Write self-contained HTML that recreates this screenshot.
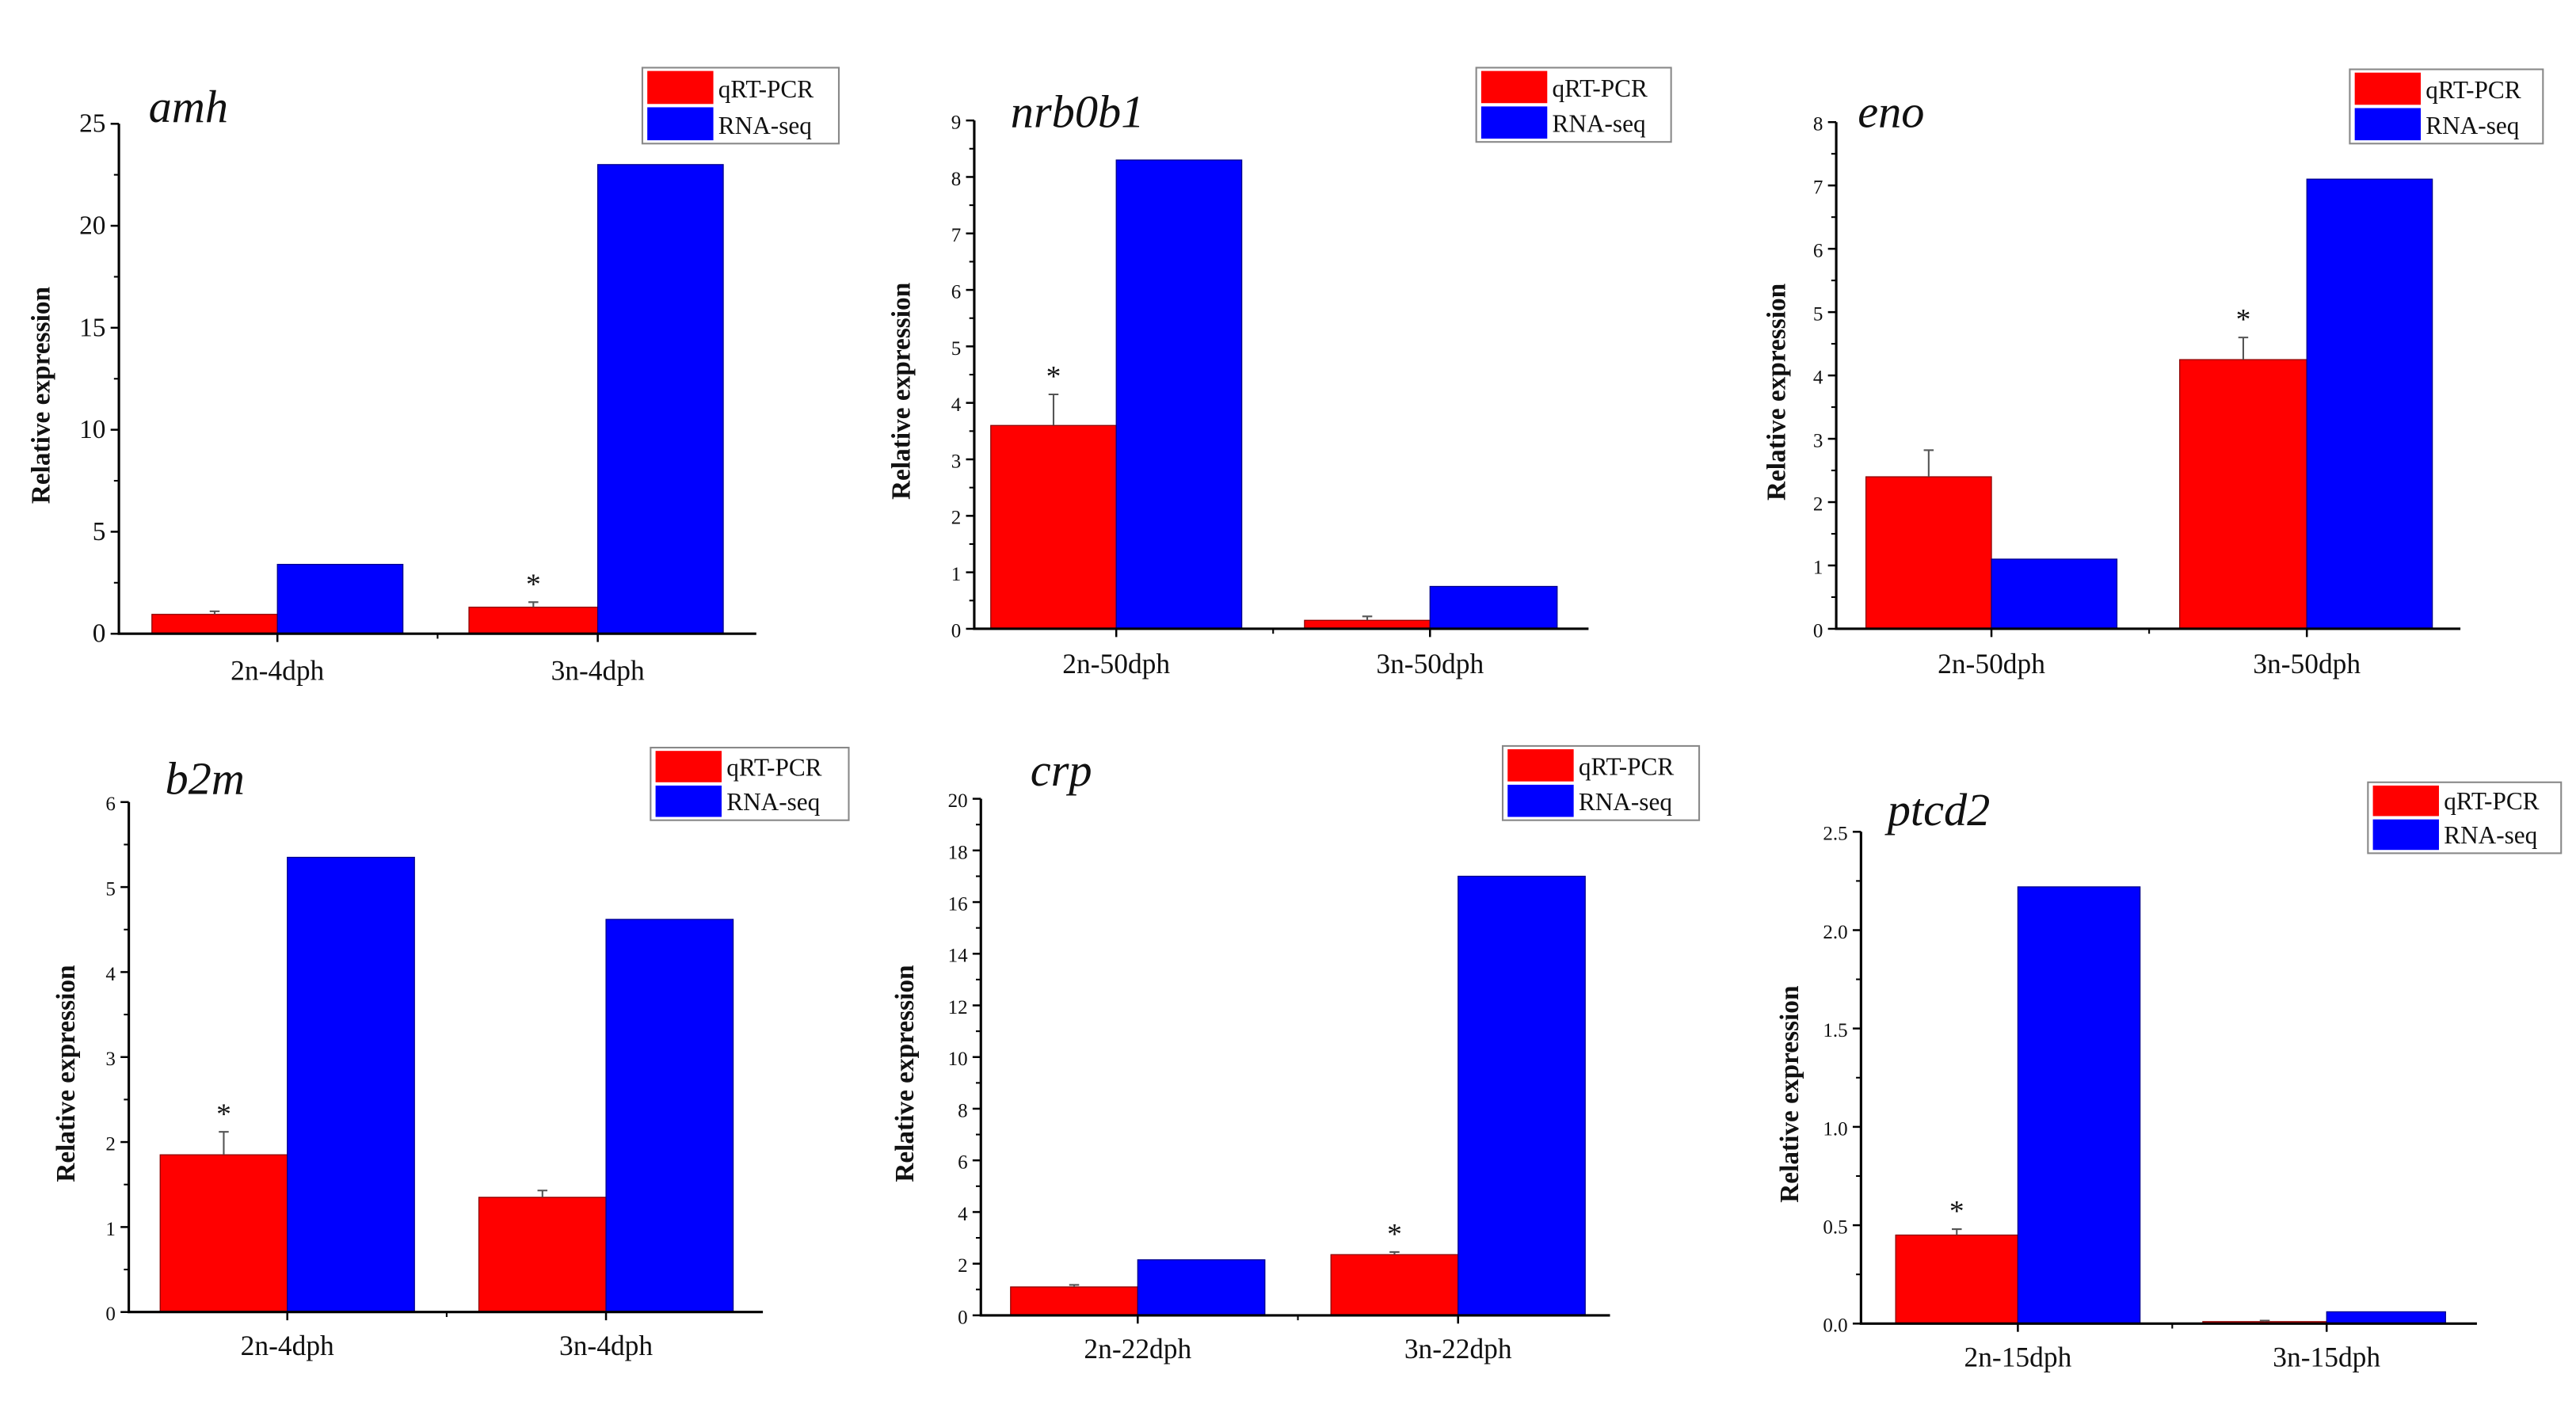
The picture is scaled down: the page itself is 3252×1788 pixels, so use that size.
<!DOCTYPE html>
<html><head><meta charset="utf-8"><style>
html,body{margin:0;padding:0;background:#fff;}
svg{display:block;}
text{font-family:"Liberation Serif",serif;fill:#111;}
</style></head><body>
<svg id="fig" width="3252" height="1788" viewBox="0 0 1560 858" preserveAspectRatio="none" xmlns="http://www.w3.org/2000/svg"></svg>
<script>
// ---- data ----
const genes = ["amh","nrb0b1","eno","b2m","crp","ptcd2"];
const categories = [["2n-4dph","3n-4dph"],["2n-50dph","3n-50dph"],["2n-50dph","3n-50dph"],["2n-4dph","3n-4dph"],["2n-22dph","3n-22dph"],["2n-15dph","3n-15dph"]];
const qpcrValues = [[0.95,1.3],[3.6,0.15],[2.4,4.25],[1.85,1.35],[1.1,2.35],[0.45,0.01]];
const qpcrErrors = [[0.15,0.25],[0.55,0.07],[0.42,0.35],[0.27,0.08],[0.08,0.1],[0.03,0.005]];
const rnaseqValues = [[3.4,23],[8.3,0.75],[1.1,7.1],[5.35,4.62],[2.15,17],[2.22,0.06]];
const significant = [[false,true],[true,false],[false,true],[true,false],[false,true],[true,false]];
const yMax = [25,9,8,6,20,2.5];
const yStep = [5,1,1,1,2,0.5];
const tickDecimals = [0,0,0,0,0,1];
// ---- layout (overview frame) ----
const layout = [
 {ax:72,y0:384,yt:75,xe:458,b:[92,168,284,362,438],title:[90,74],leg:[389,41,119,46],lab:412,yl:30},
 {ax:590,y0:381,yt:73,xe:962,b:[600,676,790,866,943],title:[612,77],leg:[894,41,118,45],lab:408,yl:551},
 {ax:1112,y0:381,yt:74,xe:1490,b:[1130,1206,1320,1397,1473],title:[1125,77],leg:[1423,42,117,45],lab:408,yl:1081},
 {ax:78,y0:795,yt:486,xe:462,b:[97,174,290,367,444],title:[100,481],leg:[394,453,120,44],lab:821,yl:45},
 {ax:594,y0:797,yt:484,xe:975,b:[612,689,806,883,960],title:[624,476],leg:[910,452,119,45],lab:823,yl:553},
 {ax:1127,y0:802,yt:504,xe:1500,b:[1148,1222,1334,1409,1481],title:[1143,500],leg:[1434,474,117,43],lab:828,yl:1089}
];
const NS="http://www.w3.org/2000/svg";
const svg=document.getElementById('fig');
function mk(tag,attrs,parent){const e=document.createElementNS(NS,tag);for(const k in attrs)e.setAttribute(k,attrs[k]);(parent||svg).appendChild(e);return e;}
genes.forEach((g,p)=>{
  const L=layout[p];
  const grp=mk('g',{});
  
  
  const y=v=>L.y0-(v/yMax[p])*(L.y0-L.yt);
  // bars
  for(let c=0;c<2;c++){
    const x0=L.b[c*2], xm=L.b[c*2+1], x1=c===0?L.b[2]-(L.b[2]-L.b[1])+ (L.b[1]-L.b[0]) + L.b[1]-L.b[1] : L.b[4];
    const xr=c===0?L.b[1]+(L.b[1]-L.b[0]):L.b[4];
    const rb=mk('rect',{x:x0,y:y(qpcrValues[p][c]),width:xm-x0,height:L.y0-y(qpcrValues[p][c]),fill:'#ff0000',stroke:'#8a0000','stroke-width':0.6},grp);
    
    
    const bb=mk('rect',{x:xm,y:y(rnaseqValues[p][c]),width:xr-xm,height:L.y0-y(rnaseqValues[p][c]),fill:'#0000ff',stroke:'#00008a','stroke-width':0.6},grp);
    
    
    const cx=(x0+xm)/2, top=y(qpcrValues[p][c]+qpcrErrors[p][c]);
    const eb=mk('path',{d:`M${cx},${y(qpcrValues[p][c])}V${top}M${cx-3},${top}H${cx+3}`,stroke:'#555','stroke-width':1,fill:'none'},grp);
    
    
    if(significant[p][c]){
      const s=mk('text',{x:cx,y:top-5,'font-size':18,'text-anchor':'middle'},grp);
      s.textContent='*';
      
      
    }
    const t=mk('text',{x:xm,y:L.lab,'font-size':17,'text-anchor':'middle'},grp);
    t.textContent=categories[p][c];
    
    
    mk('line',{x1:xm,y1:L.y0,x2:xm,y2:L.y0+5,stroke:'#000','stroke-width':1.2},grp);
  }
  // axes
  const ax=mk('path',{d:`M${L.ax},${L.yt}V${L.y0}H${L.xe}`,stroke:'#000','stroke-width':1.5,fill:'none'},grp);
  
  
  const mid=(L.b[1]+L.b[3])/2;
  mk('line',{x1:mid,y1:L.y0,x2:mid,y2:L.y0+3,stroke:'#000','stroke-width':1},grp);
  const n=Math.round(yMax[p]/yStep[p]);
  for(let i=0;i<=n;i++){
    const v=i*yStep[p], yy=y(v);
    mk('line',{x1:L.ax-5,y1:yy,x2:L.ax,y2:yy,stroke:'#000','stroke-width':1.2},grp);
    if(i<n) mk('line',{x1:L.ax-3,y1:y(v+yStep[p]/2),x2:L.ax,y2:y(v+yStep[p]/2),stroke:'#000','stroke-width':1},grp);
    const t=mk('text',{x:L.ax-8,y:yy+5,'font-size':p===0?16:12,'text-anchor':'end',fill:'#333'},grp);
    t.textContent=v.toFixed(tickDecimals[p]);
    
    
  }
  const yc=(L.y0+L.yt)/2+10;
  const yl=mk('text',{x:L.yl,y:yc,'font-size':16,'font-weight':'bold','text-anchor':'middle',transform:`rotate(-90 ${L.yl} ${yc})`},grp);
  yl.textContent='Relative expression';
  
  
  const ti=mk('text',{x:L.title[0],y:L.title[1],'font-size':28,'font-style':'italic'},grp);
  ti.textContent=g;
  
  
  // legend
  const [lx,ly,lw,lh]=L.leg;
  const lg=mk('g',{},grp);
  
  
  mk('rect',{x:lx,y:ly,width:lw,height:lh,fill:'#fff',stroke:'#888','stroke-width':1},lg);
  mk('rect',{x:lx+3,y:ly+2,width:40,height:lh/2-3,fill:'#ff0000'},lg);
  mk('rect',{x:lx+3,y:ly+lh/2+1,width:40,height:lh/2-3,fill:'#0000ff'},lg);
  const t1=mk('text',{x:lx+46,y:ly+lh/2-5,'font-size':15},lg);t1.textContent='qRT-PCR';
  
  
  const t2=mk('text',{x:lx+46,y:ly+lh-6,'font-size':15},lg);t2.textContent='RNA-seq';
  
  
});
</script>
</body></html>
